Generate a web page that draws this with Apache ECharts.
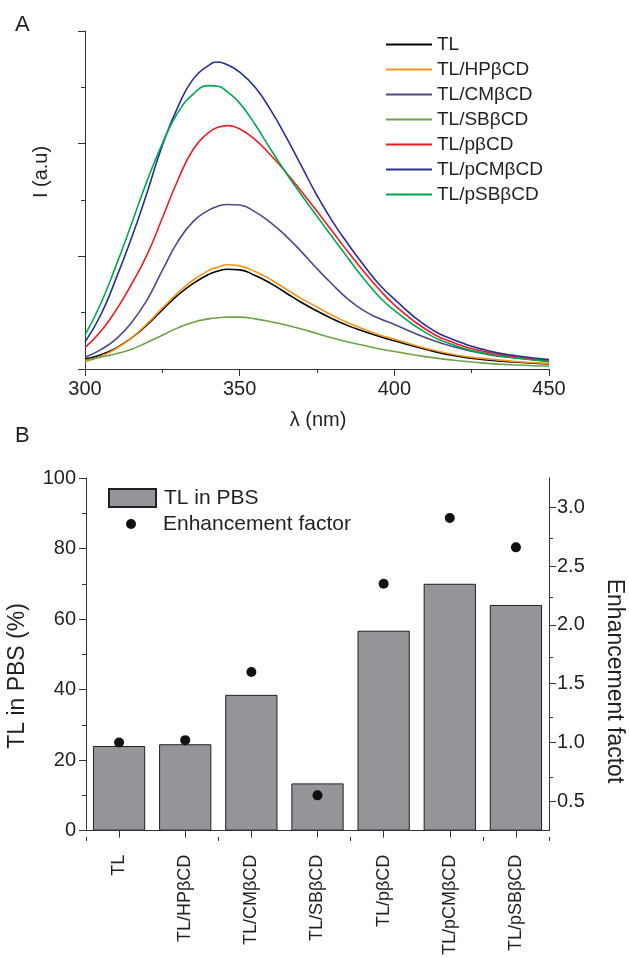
<!DOCTYPE html>
<html>
<head>
<meta charset="utf-8">
<script src="https://cdn.jsdelivr.net/npm/echarts@6/dist/echarts.min.js"></script>
<style>
html,body{margin:0;padding:0;background:#fff;}
#chart{width:629px;height:958px;}
</style>
</head>
<body>
<div id="chart"></div>
<script>
// ---- Panel A: emission spectra ----
const wavelength = [300,305,310,315,320,325,330,335,340,343,346,350,355,360,365,370,375,380,385,390,395,400,410,420,430,440,450];
const seriesNames = ['TL','TL/HPβCD','TL/CMβCD','TL/SBβCD','TL/pβCD','TL/pCMβCD','TL/pSBβCD'];
const I_TL    = [18,25,37,55,78,105,131,152,168,174,177,176,166,152,135,118,103,89,77,67,58,50,35,23,16,12,9];
const I_HP    = [13,22,36,55,80,108,135,158,175,181,185,183,173,159,142,125,110,95,82,71,61,53,37,25,18,13,10];
const I_CM    = [21,34,53,82,122,175,226,262,282,289,292,291,279,260,236,208,178,150,124,104,90,79,56,38,26,19,14];
const I_SB    = [16,21,27,35,47,60,73,83,89,91,92,92,89,84,78,71,63,55,48,42,36,31,22,15,10,7,5];
const I_pB    = [38,66,104,150,202,268,335,390,420,429,432,426,407,380,349,315,280,244,208,174,142,114,71,45,30,21,16];
const I_pCM   = [48,95,160,232,312,397,465,515,539,545,540,527,500,460,412,360,308,262,222,185,151,124,78,50,33,23,17];
const I_pSB   = [60,115,183,257,333,400,455,488,503,502,492,472,434,390,348,309,271,234,197,161,129,104,65,41,27,19,13];
const lineColors = ['#000000','#f7941d','#4d4a87','#6ca14a','#ed1c24','#2b2e8f','#00a651'];

// ---- Panel B: bars + enhancement factor ----
const categories = ['TL','TL/HPβCD','TL/CMβCD','TL/SBβCD','TL/pβCD','TL/pCMβCD','TL/pSBβCD'];
const tlInPBS = [24.0, 24.5, 38.5, 13.4, 56.7, 70.0, 64.0];
const enhancement = [1.00, 1.02, 1.60, 0.55, 2.35, 2.91, 2.66];
const rightTicks = [0.5, 1.0, 1.5, 2.0, 2.5, 3.0];
const rightMinorTicks = [0.75, 1.25, 1.75, 2.25, 2.75];

const FONT = 'Liberation Sans, Arial, Helvetica, sans-serif';
const TXT = '#231f20';
const AX = '#333333';

const curves = [I_TL, I_HP, I_CM, I_SB, I_pB, I_pCM, I_pSB];

const lineSeries = curves.map((arr, k) => ({
  name: seriesNames[k],
  type: 'line',
  xAxisIndex: 0, yAxisIndex: 0,
  data: wavelength.map((w, i) => [w, arr[i]]),
  showSymbol: false,
  smooth: true,
  color: lineColors[k],
  lineStyle: { width: 1.6, color: lineColors[k] },
  z: 2
}));

const axisLineStyle = { show: true, lineStyle: { color: AX, width: 1 } };

const option = {
  animation: false,
  textStyle: { fontFamily: FONT },
  grid: [
    { left: 85, top: 31, width: 464, height: 338 },
    { left: 86, top: 478, width: 463, height: 359 },
    { left: 86, top: 478, width: 463, height: 359 }
  ],
  xAxis: [
    {
      gridIndex: 0, type: 'value', min: 300, max: 450, interval: 50,
      axisLine: axisLineStyle,
      axisTick: { show: true, length: 7, lineStyle: { color: AX } },
      minorTick: { show: true, splitNumber: 2, length: 4, lineStyle: { color: AX } },
      axisLabel: { fontSize: 20, color: TXT, margin: 10, fontFamily: FONT },
      splitLine: { show: false }, minorSplitLine: { show: false }
    },
    {
      gridIndex: 1, type: 'category', data: categories,
      axisLine: axisLineStyle,
      axisTick: { show: true, alignWithLabel: true, length: 7, lineStyle: { color: AX } },
      axisLabel: { rotate: 90, fontSize: 18, color: TXT, margin: 24, fontFamily: FONT },
      splitLine: { show: false }
    },
    {
      gridIndex: 2, type: 'category', data: categories,
      axisLine: { show: false },
      axisTick: { show: true, alignWithLabel: false, length: 4, lineStyle: { color: AX } },
      axisLabel: { show: false },
      splitLine: { show: false }
    }
  ],
  yAxis: [
    {
      gridIndex: 0, type: 'value', min: 0, max: 600, interval: 200,
      axisLine: axisLineStyle,
      axisTick: { show: true, length: 7, lineStyle: { color: AX } },
      minorTick: { show: true, splitNumber: 2, length: 4, lineStyle: { color: AX } },
      axisLabel: { show: false },
      splitLine: { show: false }, minorSplitLine: { show: false }
    },
    {
      gridIndex: 1, type: 'value', min: 0, max: 100, interval: 20,
      axisLine: axisLineStyle,
      axisTick: { show: true, length: 7, lineStyle: { color: AX } },
      minorTick: { show: true, splitNumber: 2, length: 4, lineStyle: { color: AX } },
      axisLabel: { fontSize: 20, color: TXT, margin: 10, fontFamily: FONT },
      splitLine: { show: false }, minorSplitLine: { show: false }
    },
    {
      gridIndex: 1, type: 'value', position: 'right', min: 0.25, max: 3.25,
      axisLine: axisLineStyle,
      axisTick: { show: true, length: 7, customValues: rightTicks, lineStyle: { color: AX } },
      axisLabel: { fontSize: 20, color: TXT, margin: 8, fontFamily: FONT, customValues: rightTicks,
                   formatter: v => Number(v).toFixed(1) },
      splitLine: { show: false }
    },
    {
      gridIndex: 2, type: 'value', position: 'right', min: 0.25, max: 3.25,
      axisLine: { show: false },
      axisTick: { show: true, length: 4, customValues: rightMinorTicks, lineStyle: { color: AX } },
      axisLabel: { show: false },
      splitLine: { show: false }
    }
  ],
  legend: [
    {
      data: seriesNames, orient: 'vertical', left: 386, top: 32, padding: 0,
      icon: 'rect', itemWidth: 46, itemHeight: 2, itemGap: 0,
      textStyle: { fontSize: 19, color: TXT, lineHeight: 25, fontFamily: FONT }
    },
    {
      data: ['TL in PBS'], orient: 'vertical', left: 108, top: 486, padding: 0,
      icon: 'rect', itemWidth: 47, itemHeight: 18,
      textStyle: { fontSize: 21, color: TXT, lineHeight: 24, fontFamily: FONT, padding: [0,0,0,3] }
    },
    {
      data: ['Enhancement factor'], orient: 'vertical', left: 126, top: 512, padding: 0,
      icon: 'circle', itemWidth: 10, itemHeight: 10,
      itemStyle: { opacity: 1 },
      textStyle: { fontSize: 21, color: TXT, lineHeight: 24, fontFamily: FONT, padding: [0,0,0,22] }
    }
  ],
  graphic: [
    { type: 'text', x: 15, y: 25, style: { text: 'A', fontSize: 22, fontFamily: FONT, fill: TXT, align: 'left', verticalAlign: 'middle' } },
    { type: 'text', x: 15, y: 436, style: { text: 'B', fontSize: 22, fontFamily: FONT, fill: TXT, align: 'left', verticalAlign: 'middle' } },
    { type: 'text', x: 318, y: 420, style: { text: 'λ (nm)', fontSize: 20, fontFamily: FONT, fill: TXT, align: 'center', verticalAlign: 'middle' } },
    { type: 'text', x: 41, y: 172, rotation: Math.PI / 2, style: { text: 'I (a.u)', fontSize: 20, fontFamily: FONT, fill: TXT, align: 'center', verticalAlign: 'middle' } },
    { type: 'text', x: 18, y: 676, rotation: Math.PI / 2, style: { text: 'TL in PBS (%)', fontSize: 23, fontFamily: FONT, fill: TXT, align: 'center', verticalAlign: 'middle' } },
    { type: 'text', x: 614, y: 681, rotation: -Math.PI / 2, style: { text: 'Enhancement factot', fontSize: 23, fontFamily: FONT, fill: TXT, align: 'center', verticalAlign: 'middle' } }
  ],
  series: lineSeries.concat([
    {
      name: 'TL in PBS', type: 'bar', xAxisIndex: 1, yAxisIndex: 1,
      data: tlInPBS, barWidth: '79%',
      itemStyle: { color: '#939598', borderColor: '#231f20', borderWidth: 1 }
    },
    {
      name: 'Enhancement factor', type: 'scatter', xAxisIndex: 1, yAxisIndex: 2,
      data: enhancement, symbol: 'circle', symbolSize: 10,
      itemStyle: { color: '#111111', opacity: 1 }, z: 5
    }
  ])
};

const chart = echarts.init(document.getElementById('chart'), null, { renderer: 'canvas' });
chart.setOption(option);
</script>
</body>
</html>
